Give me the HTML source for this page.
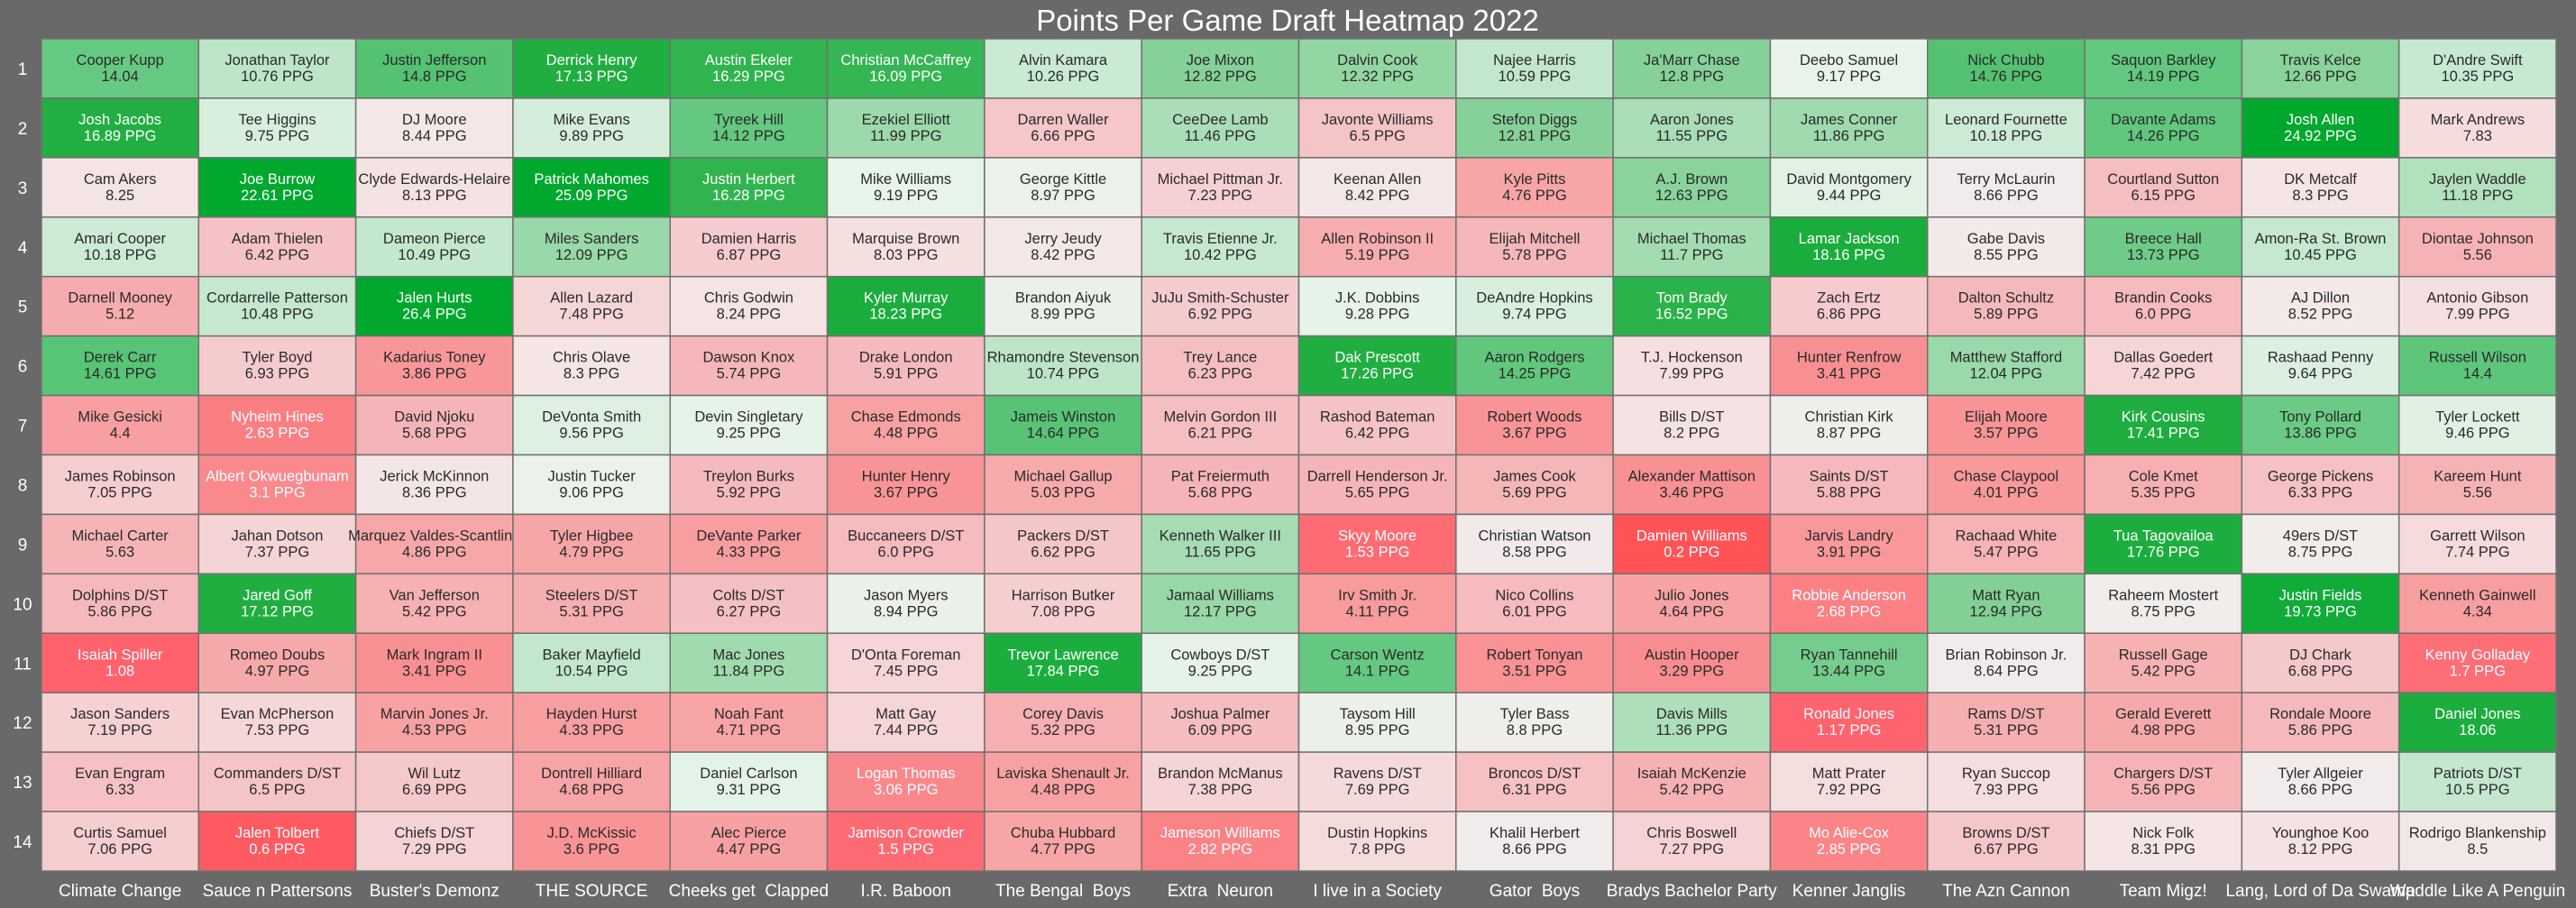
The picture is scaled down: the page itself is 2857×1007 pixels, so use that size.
<!DOCTYPE html>
<html><head><meta charset="utf-8">
<style>
html,body{margin:0;padding:0;background:#696969;}
svg{display:block;font-family:"Liberation Sans",Arial,sans-serif;}
</style></head>
<body>
<svg id="chart" width="2857" height="1007" viewBox="0 0 2857 1007" xmlns="http://www.w3.org/2000/svg">
<rect x="0" y="0" width="2857" height="1007" fill="#696969"/>
<text x="1428" y="34" text-anchor="middle" font-size="33" fill="#ffffff">Points Per Game Draft Heatmap 2022</text>
<g id="cells"></g>
<g id="rowlabels"></g>
<g id="collabels"></g>
</svg>
<script>
const teams = ["Climate Change","Sauce n Pattersons","Buster's Demonz","THE SOURCE","Cheeks get  Clapped","I.R. Baboon","The Bengal  Boys","Extra  Neuron","I live in a Society","Gator  Boys","Bradys Bachelor Party","Kenner Janglis","The Azn Cannon","Team Migz!","Lang, Lord of Da Swamp","Waddle Like A Penguin"];
const rounds = ["1","2","3","4","5","6","7","8","9","10","11","12","13","14"];
const players = [
["Cooper Kupp","Jonathan Taylor","Justin Jefferson","Derrick Henry","Austin Ekeler","Christian McCaffrey","Alvin Kamara","Joe Mixon","Dalvin Cook","Najee Harris","Ja'Marr Chase","Deebo Samuel","Nick Chubb","Saquon Barkley","Travis Kelce","D'Andre Swift"],
["Josh Jacobs","Tee Higgins","DJ Moore","Mike Evans","Tyreek Hill","Ezekiel Elliott","Darren Waller","CeeDee Lamb","Javonte Williams","Stefon Diggs","Aaron Jones","James Conner","Leonard Fournette","Davante Adams","Josh Allen","Mark Andrews"],
["Cam Akers","Joe Burrow","Clyde Edwards-Helaire","Patrick Mahomes","Justin Herbert","Mike Williams","George Kittle","Michael Pittman Jr.","Keenan Allen","Kyle Pitts","A.J. Brown","David Montgomery","Terry McLaurin","Courtland Sutton","DK Metcalf","Jaylen Waddle"],
["Amari Cooper","Adam Thielen","Dameon Pierce","Miles Sanders","Damien Harris","Marquise Brown","Jerry Jeudy","Travis Etienne Jr.","Allen Robinson II","Elijah Mitchell","Michael Thomas","Lamar Jackson","Gabe Davis","Breece Hall","Amon-Ra St. Brown","Diontae Johnson"],
["Darnell Mooney","Cordarrelle Patterson","Jalen Hurts","Allen Lazard","Chris Godwin","Kyler Murray","Brandon Aiyuk","JuJu Smith-Schuster","J.K. Dobbins","DeAndre Hopkins","Tom Brady","Zach Ertz","Dalton Schultz","Brandin Cooks","AJ Dillon","Antonio Gibson"],
["Derek Carr","Tyler Boyd","Kadarius Toney","Chris Olave","Dawson Knox","Drake London","Rhamondre Stevenson","Trey Lance","Dak Prescott","Aaron Rodgers","T.J. Hockenson","Hunter Renfrow","Matthew Stafford","Dallas Goedert","Rashaad Penny","Russell Wilson"],
["Mike Gesicki","Nyheim Hines","David Njoku","DeVonta Smith","Devin Singletary","Chase Edmonds","Jameis Winston","Melvin Gordon III","Rashod Bateman","Robert Woods","Bills D/ST","Christian Kirk","Elijah Moore","Kirk Cousins","Tony Pollard","Tyler Lockett"],
["James Robinson","Albert Okwuegbunam","Jerick McKinnon","Justin Tucker","Treylon Burks","Hunter Henry","Michael Gallup","Pat Freiermuth","Darrell Henderson Jr.","James Cook","Alexander Mattison","Saints D/ST","Chase Claypool","Cole Kmet","George Pickens","Kareem Hunt"],
["Michael Carter","Jahan Dotson","Marquez Valdes-Scantling","Tyler Higbee","DeVante Parker","Buccaneers D/ST","Packers D/ST","Kenneth Walker III","Skyy Moore","Christian Watson","Damien Williams","Jarvis Landry","Rachaad White","Tua Tagovailoa","49ers D/ST","Garrett Wilson"],
["Dolphins D/ST","Jared Goff","Van Jefferson","Steelers D/ST","Colts D/ST","Jason Myers","Harrison Butker","Jamaal Williams","Irv Smith Jr.","Nico Collins","Julio Jones","Robbie Anderson","Matt Ryan","Raheem Mostert","Justin Fields","Kenneth Gainwell"],
["Isaiah Spiller","Romeo Doubs","Mark Ingram II","Baker Mayfield","Mac Jones","D'Onta Foreman","Trevor Lawrence","Cowboys D/ST","Carson Wentz","Robert Tonyan","Austin Hooper","Ryan Tannehill","Brian Robinson Jr.","Russell Gage","DJ Chark","Kenny Golladay"],
["Jason Sanders","Evan McPherson","Marvin Jones Jr.","Hayden Hurst","Noah Fant","Matt Gay","Corey Davis","Joshua Palmer","Taysom Hill","Tyler Bass","Davis Mills","Ronald Jones","Rams D/ST","Gerald Everett","Rondale Moore","Daniel Jones"],
["Evan Engram","Commanders D/ST","Wil Lutz","Dontrell Hilliard","Daniel Carlson","Logan Thomas","Laviska Shenault Jr.","Brandon McManus","Ravens D/ST","Broncos D/ST","Isaiah McKenzie","Matt Prater","Ryan Succop","Chargers D/ST","Tyler Allgeier","Patriots D/ST"],
["Curtis Samuel","Jalen Tolbert","Chiefs D/ST","J.D. McKissic","Alec Pierce","Jamison Crowder","Chuba Hubbard","Jameson Williams","Dustin Hopkins","Khalil Herbert","Chris Boswell","Mo Alie-Cox","Browns D/ST","Nick Folk","Younghoe Koo","Rodrigo Blankenship"]
];
const ppg = [
[14.04,10.76,14.8,17.13,16.29,16.09,10.26,12.82,12.32,10.59,12.8,9.17,14.76,14.19,12.66,10.35],
[16.89,9.75,8.44,9.89,14.12,11.99,6.66,11.46,6.5,12.81,11.55,11.86,10.18,14.26,24.92,7.83],
[8.25,22.61,8.13,25.09,16.28,9.19,8.97,7.23,8.42,4.76,12.63,9.44,8.66,6.15,8.3,11.18],
[10.18,6.42,10.49,12.09,6.87,8.03,8.42,10.42,5.19,5.78,11.7,18.16,8.55,13.73,10.45,5.56],
[5.12,10.48,26.4,7.48,8.24,18.23,8.99,6.92,9.28,9.74,16.52,6.86,5.89,6.0,8.52,7.99],
[14.61,6.93,3.86,8.3,5.74,5.91,10.74,6.23,17.26,14.25,7.99,3.41,12.04,7.42,9.64,14.4],
[4.4,2.63,5.68,9.56,9.25,4.48,14.64,6.21,6.42,3.67,8.2,8.87,3.57,17.41,13.86,9.46],
[7.05,3.1,8.36,9.06,5.92,3.67,5.03,5.68,5.65,5.69,3.46,5.88,4.01,5.35,6.33,5.56],
[5.63,7.37,4.86,4.79,4.33,6.0,6.62,11.65,1.53,8.58,0.2,3.91,5.47,17.76,8.75,7.74],
[5.86,17.12,5.42,5.31,6.27,8.94,7.08,12.17,4.11,6.01,4.64,2.68,12.94,8.75,19.73,4.34],
[1.08,4.97,3.41,10.54,11.84,7.45,17.84,9.25,14.1,3.51,3.29,13.44,8.64,5.42,6.68,1.7],
[7.19,7.53,4.53,4.33,4.71,7.44,5.32,6.09,8.95,8.8,11.36,1.17,5.31,4.98,5.86,18.06],
[6.33,6.5,6.69,4.68,9.31,3.06,4.48,7.38,7.69,6.31,5.42,7.92,7.93,5.56,8.66,10.5],
[7.06,0.6,7.29,3.6,4.47,1.5,4.77,2.82,7.8,8.66,7.27,2.85,6.67,8.31,8.12,8.5]
];
const valueLabels = ppg.map(r => r.map(v => (v % 1 === 0) ? v.toFixed(1) : String(v)));

// color scale stops
const stopVals = [0.2,1.17,2.68,3.46,4.64,5.88,8.25,8.64,9.17,10.76,12.94,14.04,16.89,22.61];
const stopCols = [[255,83,88],[255,100,110],[250,128,132],[248,145,148],[247,163,165],[245,185,188],[245,228,228],[242,235,235],[232,244,234],[189,229,200],[130,208,150],[102,201,130],[34,174,66],[0,168,45]];
function color(v){
  if(v<=stopVals[0]) return 'rgb('+stopCols[0].join(',')+')';
  for(let i=1;i<stopVals.length;i++){
    if(v<=stopVals[i]){
      const t=(v-stopVals[i-1])/(stopVals[i]-stopVals[i-1]);
      const c=stopCols[i-1].map((a,k)=>Math.round(a+(stopCols[i][k]-a)*t));
      return 'rgb('+c.join(',')+')';
    }
  }
  return 'rgb('+stopCols[stopCols.length-1].join(',')+')';
}
const X0=46, Y0=43, CW=(2835-46)/16, CH=(966-43)/14;
function xPos(c){return X0+c*CW;}
function yPos(r){return Y0+r*CH;}
const NS='http://www.w3.org/2000/svg';
const cells=document.getElementById('cells');
for(let r=0;r<players.length;r++){
  for(let c=0;c<players[r].length;c++){
    const v=ppg[r][c];
    const g=document.createElementNS(NS,'g');
    
    
    const rect=document.createElementNS(NS,'rect');
    rect.setAttribute('x',xPos(c));rect.setAttribute('y',yPos(r));
    rect.setAttribute('width',CW);rect.setAttribute('height',CH);
    rect.setAttribute('fill',color(v));
    rect.setAttribute('stroke','#707070');rect.setAttribute('stroke-width','1.5');
    
    
    g.appendChild(rect);
    const tc=(v<3.2||v>15.5)?'#ffffff':'#2a2a2a';
    const noSuffix=(c===0&&r%2===0)||(c===15&&r%2===1);
    const t1=document.createElementNS(NS,'text');
    t1.setAttribute('x',xPos(c)+CW/2);t1.setAttribute('y',yPos(r)+29);
    t1.setAttribute('text-anchor','middle');t1.setAttribute('font-size','16.5');t1.setAttribute('fill',tc);
    
    
    t1.textContent=players[r][c];
    g.appendChild(t1);
    const t2=document.createElementNS(NS,'text');
    t2.setAttribute('x',xPos(c)+CW/2);t2.setAttribute('y',yPos(r)+47);
    t2.setAttribute('text-anchor','middle');t2.setAttribute('font-size','16.5');t2.setAttribute('fill',tc);
    
    
    t2.textContent=valueLabels[r][c]+(noSuffix?'':' PPG');
    g.appendChild(t2);
    cells.appendChild(g);
  }
}
const rl=document.getElementById('rowlabels');
rounds.forEach((lab,r)=>{
  const t=document.createElementNS(NS,'text');
  t.setAttribute('x',25);t.setAttribute('y',yPos(r)+CH/2+7);
  t.setAttribute('text-anchor','middle');t.setAttribute('font-size','19');t.setAttribute('fill','#ffffff');
  
  
  t.textContent=lab;rl.appendChild(t);
});
const cl=document.getElementById('collabels');
teams.forEach((lab,c)=>{
  const t=document.createElementNS(NS,'text');
  t.setAttribute('x',xPos(c)+CW/2);t.setAttribute('y',994);
  t.setAttribute('text-anchor','middle');t.setAttribute('font-size','19');t.setAttribute('fill','#ffffff');
  t.setAttribute('xml:space','preserve');t.style.whiteSpace='pre';
  
  
  t.textContent=lab;cl.appendChild(t);
});
</script>
</body></html>
